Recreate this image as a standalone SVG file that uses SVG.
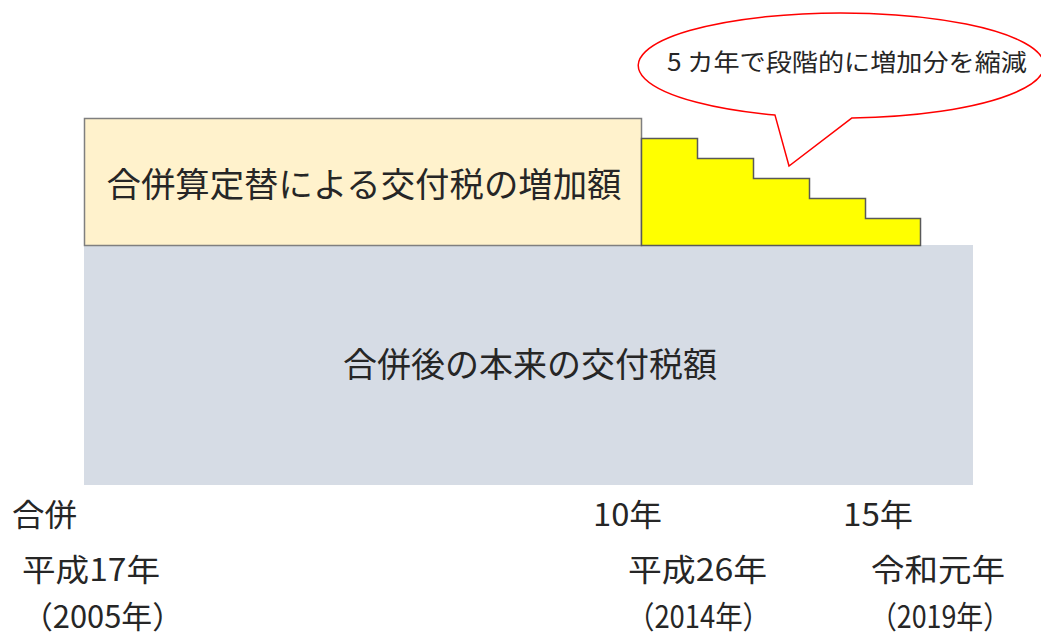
<svg xmlns="http://www.w3.org/2000/svg" width="1041" height="639" viewBox="0 0 1041 639">
<style>
text{font-family:"Noto Sans CJK JP","Noto Sans",sans-serif;fill:#262626}
.big{font-size:34px}
.lbl{font-size:31px}
</style>
<rect width="1041" height="639" fill="#ffffff"/>
<g id="base">
<rect x="84" y="245" width="889" height="240" fill="#d6dce5"/>
<text class="big" x="530" y="377" text-anchor="middle" textLength="374" lengthAdjust="spacingAndGlyphs">合併後の本来の交付税額</text>
</g>
<g id="increase">
<rect x="84.5" y="118.5" width="557" height="127" fill="#fff2cc" stroke="#7f7f7f" stroke-width="1.5"/>
<text class="big" x="364" y="197" text-anchor="middle" textLength="515" lengthAdjust="spacingAndGlyphs">合併算定替による交付税の増加額</text>
</g>
<g id="steps">
<path d="M641.5 138.5 H697.5 V158.5 H753.5 V178.5 H809.5 V198.5 H865.5 V218.5 H920.5 V245.5 H641.5 Z" fill="#ffff00" stroke="#595959" stroke-width="1.5"/>
</g>
<g id="callout">
<path d="M852 117.9 L789 166 L775 115.1 A203 52.5 0 1 1 852 117.9 Z" fill="#ffffff" stroke="#ff0000" stroke-width="1.5"/>
<text x="667" y="71" font-size="24" textLength="360" lengthAdjust="spacingAndGlyphs">5 カ年で段階的に増加分を縮減</text>
</g>
<g id="labels">
<text class="lbl" x="12" y="526" textLength="65" lengthAdjust="spacingAndGlyphs">合併</text>
<text class="lbl" x="22" y="581" textLength="138" lengthAdjust="spacingAndGlyphs">平成17年</text>
<text class="lbl" x="22" y="628" font-size="30" textLength="161" lengthAdjust="spacingAndGlyphs">（2005年）</text>
<text class="lbl" x="593" y="526" textLength="69" lengthAdjust="spacingAndGlyphs">10年</text>
<text class="lbl" x="628" y="581" textLength="139" lengthAdjust="spacingAndGlyphs">平成26年</text>
<text class="lbl" x="627" y="628" font-size="30" textLength="143" lengthAdjust="spacingAndGlyphs">（2014年）</text>
<text class="lbl" x="843" y="526" textLength="70" lengthAdjust="spacingAndGlyphs">15年</text>
<text class="lbl" x="871" y="581" textLength="134" lengthAdjust="spacingAndGlyphs">令和元年</text>
<text class="lbl" x="870" y="628" font-size="30" textLength="140" lengthAdjust="spacingAndGlyphs">（2019年）</text>
</g>
<g id="connectors"/>
</svg>
